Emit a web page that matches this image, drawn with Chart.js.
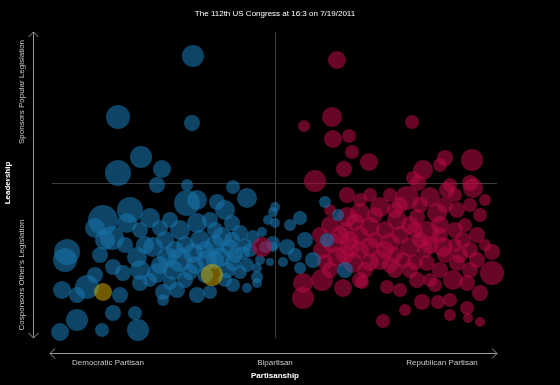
<!DOCTYPE html>
<html>
<head>
<meta charset="utf-8">
<script src="https://cdn.jsdelivr.net/npm/chart.js@4.4.0/dist/chart.umd.min.js"></script>
<style>
html,body{margin:0;padding:0;background:#000;}
#wrap{width:560px;height:385px;}
</style>
</head>
<body>
<div id="wrap"><canvas id="c" width="560" height="385"></canvas></div>
<script>
const chartTitle = "The 112th US Congress at 16:3 on 7/19/2011";
const xAxisTitle = "Partisanship";
const yAxisTitle = "Leadership";
const xTickLabels = ["Democratic Partisan", "Bipartisan", "Republican Partisan"];
const xTickValues = [-167, 0, 167];
const yTickLabels = ["Cosponsors Other's Legislation", "Sponsors Popular Legislation"];
const yTickValues = [-92, 91];

// Democrats
const demX = [-82,-157,-83,-134,-157,-113,-118,-88,-42,-28,-88,-78,-58,-50,-145,-125,-172,-163,-148,-135,-105,-95,-78,-65,-43,-53,-35,-22,-2,0,-2,-208,-210,-138,-122,-108,-95,-82,-68,-55,-42,-32,-15,-5,-162,-152,-135,-118,-102,-85,-48,-35,-18,-18,-188,-213,-198,-155,-135,-125,-112,-98,-78,-65,-42,-28,-18,-198,-215,-173,-162,-140,-137,-112,50,63,25,0,52,38,70,12,-2,15,30,20,8,25,-75,-60,-90,-110,-45,-25,-70,-105,-130,-150,-175,-180,-170,-180,-60,-43,-13,-7,-10,-28,-100,-80,-60,-115,-40,-90,-50,-70,-30,-115];
const demY = [127,66,60,26,10,14,-2,-2,-4,-15,-20,-17,-19,-27,-27,-35,-37,-55,-40,-47,-37,-47,-40,-37,-40,-54,-50,-54,-29,-40,-60,-69,-77,-74,-64,-74,-77,-70,-77,-74,-80,-70,-77,-79,-84,-90,-87,-90,-87,-89,-87,-89,-85,-94,-104,-107,-112,-112,-100,-97,-109,-107,-112,-109,-102,-105,-100,-137,-149,-147,-130,-130,-147,-117,-19,-32,-35,-24,-57,-77,-87,-64,-64,-42,-57,-72,-79,-85,-57,-62,-62,-57,-65,-67,-92,-100,-62,-62,-72,-92,-57,-45,-47,-57,-49,-37,-64,-82,-67,-82,-77,-82,-72,-97,-97,-67,-62,-45];
const demSize = [11,12,8,11,13,9,8,6,7,10,13,10,8,10,13,10,15,12,10,8,8,10,10,8,8,10,8,7,5,5,7,13,12,10,10,10,12,10,10,10,8,7,5,4,8,8,10,10,10,8,8,7,5,6,12,9,8,8,8,7,8,8,8,7,7,5,5,11,9,7,8,7,11,6,6,6,7,5,7,8,8,8,5,6,8,7,5,6,10,10,9,9,9,7,8,7,9,8,8,8,10,10,8,8,5,5,6,7,9,9,9,9,8,8,7,9,7,8];

// Republicans
const repX = [62,57,29,137,58,74,77,94,69,40,197,170,148,165,138,195,175,72,198,172,143,132,155,182,105,85,72,95,122,142,162,202,217,217,188,152,168,135,115,95,75,58,62,78,105,128,152,182,202,28,47,28,68,87,112,125,142,147,163,178,192,205,192,175,193,205,108,45,47,65,85,110,125,140,165,180,190,205,125,115,145,180,210,85,120,135,165,195,90,55,160,170,195,210,95,85,55,70,100,150,120,180,155,130,55,80,100,135,155,185,70,95,115,140,110,75,145,165,50,85,175,120,170,195];
const repY = [123,66,57,61,44,47,31,21,14,2,23,25,13,18,5,0,-2,-12,-5,-7,0,-15,-14,-27,-24,-30,-34,-44,-37,-34,-30,-52,-69,-90,-57,-50,-64,-64,-60,-64,-64,-60,-74,-80,-77,-77,-80,-80,-77,-100,-97,-115,-105,-99,-104,-107,-97,-119,-119,-97,-100,-110,-125,-132,-135,-139,-138,-52,-67,-52,-52,-47,-52,-47,-42,-47,-42,-32,-22,-12,-22,-12,-17,-67,-87,-87,-87,-87,-87,-87,-102,-72,-67,-62,-12,-17,-27,-47,-57,-67,-72,-62,-97,-127,-42,-39,-32,-42,-62,-72,-72,-79,-82,-79,-67,-57,-57,-52,-79,-97,-117,-27,-22,-22];
const repSize = [9,10,6,7,9,7,7,9,8,11,11,8,10,7,7,8,7,8,10,8,8,12,10,8,10,10,10,10,10,8,10,8,8,12,8,12,10,10,10,10,10,10,10,10,10,8,8,8,8,10,11,11,9,7,7,7,8,8,7,10,8,8,7,6,5,5,7,8,9,9,9,9,9,8,9,8,7,7,8,7,8,7,6,9,8,8,8,8,8,8,7,8,8,6,7,7,6,8,8,8,8,7,7,6,9,9,8,9,9,8,9,9,8,8,9,9,8,8,8,8,7,8,8,7];

// Republican member placed among Democrats
const swingX = [-13];
const swingY = [-64];
const swingSize = [10];

// Independents / other
const othX = [-172, -63];
const othY = [-109, -92];
const othSize = [9, 11];

function pts(xs, ys, ss) {
  return xs.map((x, i) => ({ x: x, y: ys[i], r: ss[i] }));
}

const FONT = "'Liberation Sans', Arial, sans-serif";
const RED = 'rgba(180,10,66,0.58)';
const BLUE = 'rgba(24,114,168,0.6)';
const YELLOW = 'rgba(215,175,0,0.52)';

const decor = {
  id: 'decor',
  beforeDatasetsDraw(chart) {
    const ctx = chart.ctx, xs = chart.scales.x, ys = chart.scales.y;
    const x0 = Math.round(xs.getPixelForValue(0)) + 0.5;
    const y0 = Math.round(ys.getPixelForValue(0)) + 0.5;
    ctx.save();
    ctx.strokeStyle = '#3c3c3c';
    ctx.lineWidth = 1;
    ctx.beginPath();
    ctx.moveTo(x0, ys.getPixelForValue(151));
    ctx.lineTo(x0, ys.getPixelForValue(-155));
    ctx.moveTo(xs.getPixelForValue(-223), y0);
    ctx.lineTo(xs.getPixelForValue(222), y0);
    ctx.stroke();
    ctx.restore();
  },
  afterDraw(chart) {
    const ctx = chart.ctx, xs = chart.scales.x, ys = chart.scales.y, a = chart.chartArea;
    ctx.save();
    ctx.strokeStyle = '#9a9a9a';
    ctx.lineWidth = 1;
    const ax = a.left - 18.5;
    const yTop = ys.getPixelForValue(151), yBot = ys.getPixelForValue(-155);
    ctx.beginPath();
    ctx.moveTo(ax, yTop); ctx.lineTo(ax, yBot);
    ctx.moveTo(ax - 5, yTop + 5); ctx.lineTo(ax, yTop); ctx.lineTo(ax + 5, yTop + 5);
    ctx.moveTo(ax - 5, yBot - 5); ctx.lineTo(ax, yBot); ctx.lineTo(ax + 5, yBot - 5);
    const ay = a.bottom + 15.5;
    const xL = xs.getPixelForValue(-225), xR = xs.getPixelForValue(222);
    ctx.moveTo(xL, ay); ctx.lineTo(xR, ay);
    ctx.moveTo(xL + 5, ay - 5); ctx.lineTo(xL, ay); ctx.lineTo(xL + 5, ay + 5);
    ctx.moveTo(xR - 5, ay - 5); ctx.lineTo(xR, ay); ctx.lineTo(xR - 5, ay + 5);
    ctx.stroke();

    ctx.fillStyle = '#ffffff';
    ctx.font = '8px ' + FONT;
    ctx.textAlign = 'center';
    ctx.textBaseline = 'middle';
    ctx.fillText(chartTitle, xs.getPixelForValue(0), 14);

    ctx.fillStyle = '#c8c8c8';
    ctx.font = '8px ' + FONT;
    xTickLabels.forEach((t, i) => ctx.fillText(t, xs.getPixelForValue(xTickValues[i]), a.bottom + 25));
    ctx.fillStyle = '#ffffff';
    ctx.font = 'bold 8px ' + FONT;
    ctx.fillText(xAxisTitle, xs.getPixelForValue(0), a.bottom + 38);

    ctx.fillStyle = '#c8c8c8';
    ctx.font = '8px ' + FONT;
    yTickLabels.forEach((t, i) => {
      ctx.save();
      ctx.translate(a.left - 30, ys.getPixelForValue(yTickValues[i]));
      ctx.rotate(-Math.PI / 2);
      ctx.fillText(t, 0, 0);
      ctx.restore();
    });
    ctx.fillStyle = '#ffffff';
    ctx.font = 'bold 8px ' + FONT;
    ctx.save();
    ctx.translate(a.left - 44, ys.getPixelForValue(0));
    ctx.rotate(-Math.PI / 2);
    ctx.fillText(yAxisTitle, 0, 0);
    ctx.restore();
    ctx.restore();
  }
};

new Chart(document.getElementById('c'), {
  type: 'bubble',
  data: {
    datasets: [
      { label: 'Republicans', data: pts(repX, repY, repSize), backgroundColor: RED, borderWidth: 0, clip: false, order: 4 },
      { label: 'Democrats', data: pts(demX, demY, demSize), backgroundColor: BLUE, borderWidth: 0, clip: false, order: 3 },
      { label: 'Swing', data: pts(swingX, swingY, swingSize), backgroundColor: RED, borderWidth: 0, clip: false, order: 2 },
      { label: 'Other', data: pts(othX, othY, othSize), backgroundColor: YELLOW, borderWidth: 0, clip: false, order: 1 }
    ]
  },
  options: {
    responsive: false,
    animation: false,
    layout: { padding: { left: 52, right: 62, top: 28, bottom: 47 } },
    plugins: { legend: { display: false }, tooltip: { enabled: false }, title: { display: false } },
    scales: {
      x: { type: 'linear', min: -223, max: 223, display: false },
      y: { type: 'linear', min: -155, max: 155, display: false }
    }
  },
  plugins: [decor]
});
</script>
</body>
</html>
